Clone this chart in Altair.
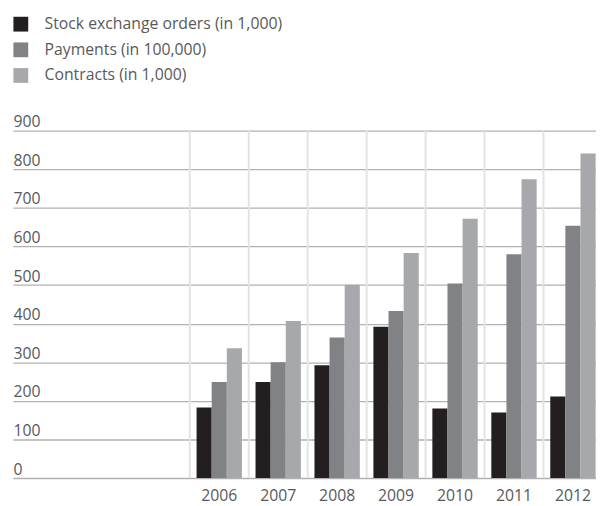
import altair as alt
import pandas as pd

years = ["2006", "2007", "2008", "2009", "2010", "2011", "2012"]
series_names = ["Stock exchange orders (in 1,000)", "Payments (in 100,000)", "Contracts (in 1,000)"]
stock = [183, 249, 292, 392, 180, 170, 211]
payments = [249, 300, 364, 433, 504, 580, 654]
contracts = [336, 407, 501, 583, 672, 774, 841]
colors = ["#231f20", "#818285", "#a7a8ab"]
y_ticks = [0, 100, 200, 300, 400, 500, 600, 700, 800, 900]
blank_slots = ["_a", "_b", "_c"]

rows = []
for name, vals in zip(series_names, [stock, payments, contracts]):
    for yr, v in zip(years, vals):
        rows.append({"year": yr, "series": name, "value": v})
df = pd.DataFrame(rows)
grid_df = pd.DataFrame({"year": years, "value": [900] * len(years), "bottom": [0] * len(years)})

FONT = "Open Sans"
TXT = "#58595b"
FS = 16

xscale = alt.Scale(domain=blank_slots + years, paddingInner=0, paddingOuter=0)
yscale = alt.Scale(domain=[0, 900], nice=False)

xaxis = alt.Axis(
    values=years, title=None, domain=False, ticks=False, tickSize=0, grid=False,
    labelFont=FONT, labelFontSize=FS, labelColor=TXT, labelPadding=10, labelAngle=0,
)
yaxis = alt.Axis(
    values=y_ticks, title=None, grid=True, gridColor="#b1b1b3", gridWidth=1.3,
    domain=False, ticks=False, tickSize=0, labelAlign="left", labelPadding=0,
    labelBaseline="alphabetic", labelOffset=-4, labelFlush=False, labelOverlap=False,
    labelFont=FONT, labelFontSize=FS, labelColor=TXT,
)

vgrid = alt.Chart(grid_df).mark_rule(color="#e3e3e4", strokeWidth=2).encode(
    x=alt.X("year:N", scale=xscale, bandPosition=0, axis=xaxis),
    y=alt.Y("value:Q", scale=yscale, axis=yaxis),
    y2="bottom:Q",
)

bars = alt.Chart(df).mark_bar().encode(
    x=alt.X("year:N", scale=xscale, axis=xaxis),
    xOffset=alt.XOffset(
        "series:N",
        sort=series_names,
        scale=alt.Scale(domain=series_names, paddingInner=0, paddingOuter=0.45),
    ),
    y=alt.Y("value:Q", scale=yscale, axis=yaxis),
    color=alt.Color(
        "series:N",
        sort=series_names,
        scale=alt.Scale(domain=series_names, range=colors),
        legend=alt.Legend(
            title=None, orient="none", legendX=0, legendY=-116, padding=0,
            symbolType="square", symbolSize=225, symbolStrokeWidth=0, symbolOpacity=1,
            labelFont=FONT, labelFontSize=FS, labelColor=TXT, labelOffset=16,
            labelLimit=400, rowPadding=10,
        ),
    ),
)

chart = alt.layer(vgrid, bars).properties(
    width=597.5,
    height=352,
    autosize=alt.AutoSizeParams(type="none"),
    padding={"left": 5, "top": 121, "right": -6.5, "bottom": 25},
).configure_view(stroke=None)

chart.save("out.html", embed_options={"renderer": "svg", "actions": False})
